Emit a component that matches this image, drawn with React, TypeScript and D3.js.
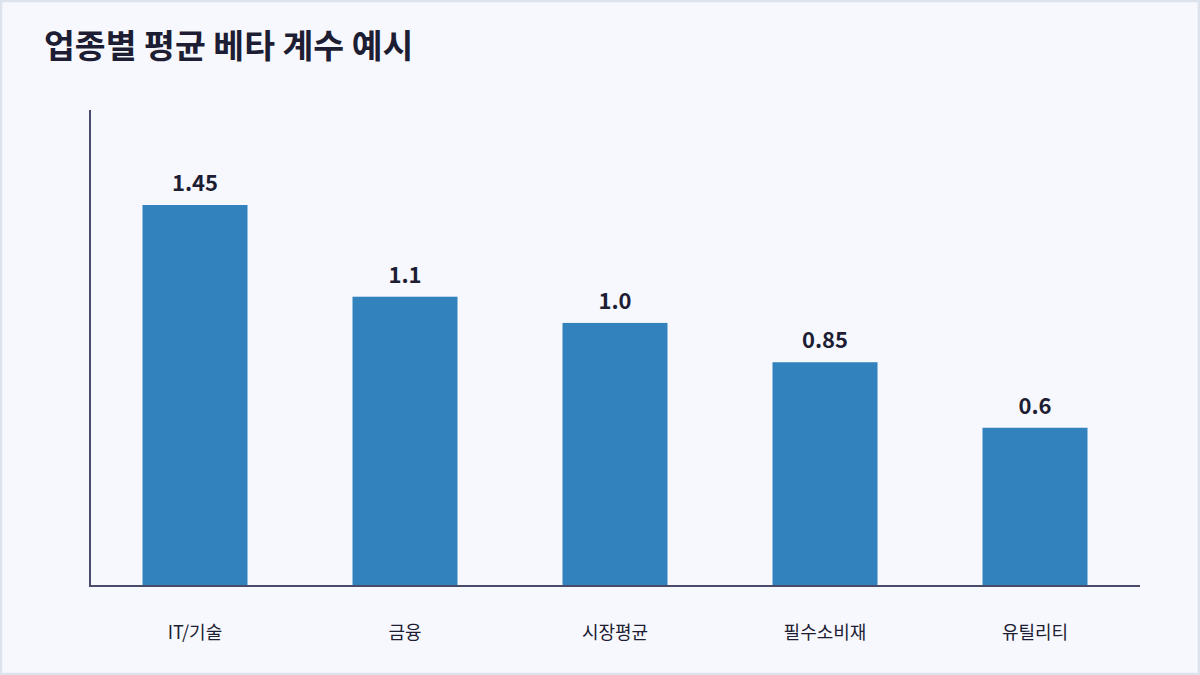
import React from "react";
import * as d3 from "d3";

const categories = ["IT/기술", "금융", "시장평균", "필수소비재", "유틸리티"];
const betaValues = [1.45, 1.1, 1.0, 0.85, 0.6];
const valueLabels = ["1.45", "1.1", "1.0", "0.85", "0.6"];
const title = "업종별 평균 베타 계수 예시";

const W = 1200;
const H = 675;
const margin = { left: 90, right: 60, top: 110, bottom: 90 };
const FONT = "'Noto Sans CJK KR', 'Noto Sans', sans-serif";

export default function App() {
  const x = d3
    .scaleBand<string>()
    .domain(categories)
    .range([margin.left, W - margin.right])
    .paddingInner(0.5)
    .paddingOuter(0.25);
  const y = d3
    .scaleLinear()
    .domain([0, d3.max(betaValues)! * 1.25])
    .range([H - margin.bottom, margin.top]);
  const y0 = y(0);

  return (
    <div style={{ position: "fixed", left: 0, top: 0, width: W, height: H }}>
      <svg width={W} height={H} style={{ display: "block" }}>
        <rect x={1} y={1} width={W - 2} height={H - 2} fill="#f7f8fd" stroke="#dde3ec" strokeWidth={2.5} />
        <text x={44} y={58} fontFamily={FONT} fontSize={33.5} fontWeight={700} fill="#1d1d33">
          {title}
        </text>
        {categories.map((c, i) => (
          <g key={c}>
            <rect x={x(c)} y={y(betaValues[i])} width={x.bandwidth()} height={y0 - y(betaValues[i])} fill="#3182bd" />
            <text
              x={x(c)! + x.bandwidth() / 2}
              y={y(betaValues[i]) - 14}
              textAnchor="middle"
              fontFamily={FONT}
              fontSize={22}
              fontWeight={700}
              fill="#1d1d33"
            >
              {valueLabels[i]}
            </text>
            <text
              x={x(c)! + x.bandwidth() / 2}
              y={639}
              textAnchor="middle"
              fontFamily={FONT}
              fontSize={18}
              fill="#1d1d33"
            >
              {c}
            </text>
          </g>
        ))}
        <line x1={margin.left} x2={margin.left} y1={margin.top} y2={y0 + 1} stroke="#4a4a6a" strokeWidth={2} />
        <line x1={margin.left - 1} x2={W - margin.right} y1={y0 + 1} y2={y0 + 1} stroke="#4a4a6a" strokeWidth={2} />
      </svg>
    </div>
  );
}
